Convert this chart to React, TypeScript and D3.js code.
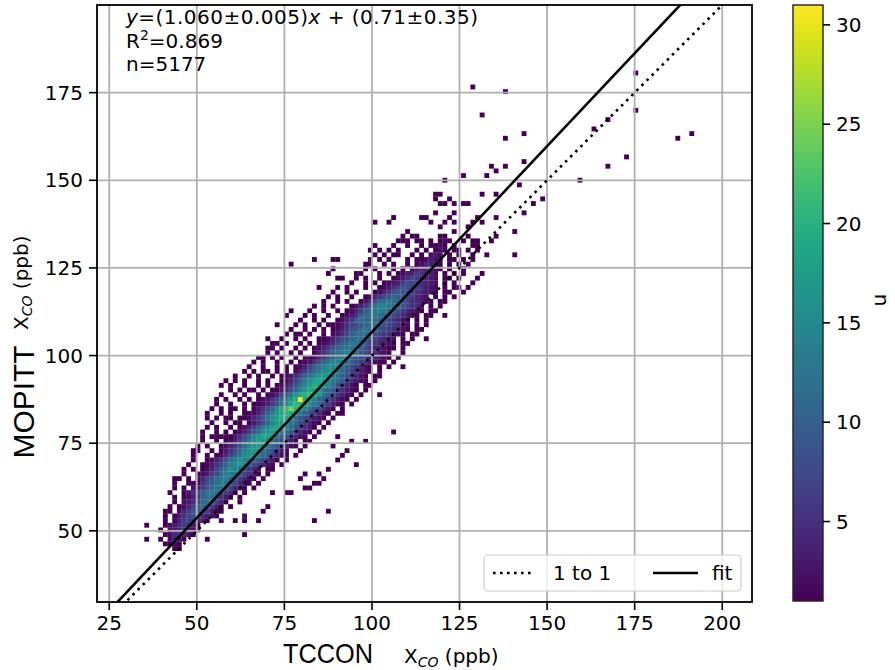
import React from 'react';
import * as d3 from 'd3';

const W = 895;
const H = 670;
const PLOT = { left: 97, right: 752, top: 5, bottom: 602 };
const CBAR = { left: 793, right: 823, top: 5, bottom: 601 };

const xTicks = [25, 50, 75, 100, 125, 150, 175, 200];
const yTicks = [50, 75, 100, 125, 150, 175];
const cbarTicks = [5, 10, 15, 20, 25, 30];
const xDomain: [number, number] = [21.5, 208.5];
const yDomain: [number, number] = [29.7, 200];
const countDomain: [number, number] = [1, 31];
const binOrigin = 35;
const binSize = 1.33;
const fitSlope = 1.06;
const fitIntercept = 0.71;
const legendLabels = ['1 to 1', 'fit'];
const statR2 = '0.869';
const statN = '5177';

// [yBin, firstXBin, counts]  ('.'=0, '1'..'9', 'a'=10 ... 'v'=31)
const denseRows: [number, number, string][] = [
  [7, 6, '11'],
  [8, 4, '1121'],
  [9, 3, '1.2321'],
  [10, 4, '1245421'],
  [11, 3, '1.2345321'],
  [12, 4, '12356431'],
  [13, 4, '1.14675431'],
  [14, 4, '1.1357875321'],
  [15, 4, '11.2469a86311'],
  [16, 5, '1.1247ab9631.1'],
  [17, 6, '1.2358bca741..1'],
  [18, 6, '1.1246acb9531.1'],
  [19, 5, '1..1357acdb8641.1'],
  [20, 6, '1.1.2469bdca7421.1'],
  [21, 6, '1..11258acec97421.1'],
  [22, 6, '11.1.2479cdeb96421.1'],
  [23, 8, '1..12368bedca7531.1'],
  [24, 8, '1.1.1247adgfc9642.11'],
  [25, 9, '1..11358aefhda86421.1'],
  [26, 10, '1..12469cegfdb97531.1'],
  [27, 10, '1..1.1247adfhgeb96421.1'],
  [28, 10, '11..1.1358beghfca8531..1'],
  [29, 11, '1.1..12469cfhigdb97421.1'],
  [30, 12, '1..1.1247adgiheb97531.11'],
  [31, 12, '1.1..11358bfhjigda86421.1'],
  [32, 12, '1..1.1.12469cghigeb96421.1'],
  [33, 13, '1.1..1.1247adgijhfc97531.1'],
  [34, 14, '1..1.1..1358bfhigdb86421.1'],
  [35, 13, '1.1..1.112469dgikihc975321.1'],
  [36, 13, '1..1.1..11247aehjkjgda86421.11'],
  [37, 14, '1.1..1.1.1358bgkmpkifc97531.1'],
  [38, 15, '1..1..1.112469cgjlkigdb86421.1'],
  [39, 15, '1.1..1.1.12358bfhkvjhea975321.1'],
  [40, 16, '1..1.1..1.1247adhjkljhda86421.1'],
  [41, 18, '1.1..1.1.11358behjigdb975321.1'],
  [42, 18, '1..1..1.1.12469cfikihec86421.11'],
  [43, 19, '1.1..1.1..1247adgijhfdb975321.1'],
  [44, 19, '1..1.1..1.12358bdfhigeca86421.11'],
  [45, 21, '1.1..1.1.1.2469bdfgfdb975321.1'],
  [46, 22, '1..1..1.1.1247acegfeca86421.1.1'],
  [47, 23, '1.1..1..1.12358bdfedca8653211.1'],
  [48, 24, '1..1.1..1.112469bdecb98754321.1'],
  [49, 26, '1.1..1.1..1358acdecb9865321..1'],
  [50, 26, '1..1..1.1.12469bcdcba8643211.1'],
  [51, 28, '1.1..1.1.12358acdcb9764321.11'],
  [52, 29, '1..1.1..1124689bcba975432.1.1'],
  [53, 30, '1.1..1..1.2357abcba8765321.11'],
  [54, 31, '1..1.1.1.124689bdcb9765421.11'],
  [55, 32, '1.1..1.11235789bcba976532.1.1'],
  [56, 33, '1..1.1..1246abbcba876421.1.1'],
  [57, 34, '1.1..1..1235abcdcb9865321.11'],
  [58, 35, '1..1..1.1246acdedca864321.11'],
  [59, 36, '1.1.1...12469cefdba97542.1.1'],
  [60, 38, '1..1.1..1358bcdcb9754321.11'],
  [61, 39, '1.1..1..124689ba976432.1.1'],
  [62, 40, '1..1.1...12468a98654321.11'],
  [63, 41, '1.1...1..1235798765321.1.1'],
  [64, 44, '1..1.1.123468765432.1.1'],
  [65, 45, '1.1..1..1235765432.11.1'],
  [66, 46, '1...1.1.123465432.1.1.1'],
  [67, 47, '1.1...1.1.2354321.1..1'],
  [68, 48, '1..1.1..1.124321.1.1.1'],
  [69, 50, '1.1...1.112321.1..1.1'],
  [70, 51, '1..1..1.1.232.1.1..1'],
  [71, 52, '1.1...1.1.121.1..1.1'],
  [72, 53, '1..1..1.1121.1...11'],
  [73, 54, '1...1..1.121..1..1'],
];

// [xBin, yBin, count] isolated cells
const sparseCells: [number, number, number][] = [
  [0, 9, 1], [13, 9, 1], [0, 12, 1], [21, 10, 1], [16, 13, 1], [19, 13, 1], [21, 13, 1], [24, 13, 1],
  [21, 14, 2], [25, 15, 1], [26, 16, 1], [36, 13, 1], [39, 15, 1], [34, 20, 1], [35, 20, 1], [36, 21, 1],
  [37, 21, 1], [38, 22, 1], [37, 23, 1], [33, 22, 1], [34, 23, 1], [30, 19, 1], [31, 19, 1], [27, 19, 1],
  [41, 26, 1], [42, 27, 1], [43, 28, 1], [44, 30, 1], [53, 32, 1], [15, 31, 1], [16, 31, 1], [15, 32, 1],
  [17, 35, 1], [19, 32, 1], [20, 33, 1], [20, 34, 1], [21, 40, 1], [16, 42, 1], [17, 43, 1], [24, 44, 1],
  [25, 45, 1], [25, 47, 1], [25, 48, 1], [27, 50, 1], [27, 51, 1], [32, 52, 1], [33, 53, 1], [30, 57, 1],
  [31, 58, 1], [31, 68, 1], [36, 69, 1], [40, 69, 1], [41, 69, 1], [39, 66, 1], [40, 67, 1], [45, 66, 1],
  [37, 63, 1], [41, 65, 1], [42, 65, 1], [47, 68, 1], [48, 69, 2], [49, 70, 1], [50, 71, 1], [48, 71, 1],
  [49, 72, 1], [52, 69, 1], [53, 70, 1], [55, 73, 1], [56, 73, 1], [57, 74, 1], [58, 74, 1], [59, 73, 1],
  [63, 70, 1], [64, 72, 1], [63, 74, 1], [66, 69, 1], [67, 71, 1], [68, 73, 1], [69, 74, 1], [49, 77, 1],
  [52, 77, 1], [53, 78, 1], [55, 74, 1], [56, 75, 1], [66, 61, 1], [68, 62, 1], [69, 63, 1], [70, 64, 1],
  [71, 65, 1], [67, 63, 1], [72, 66, 1], [59, 78, 1], [60, 78, 1], [61, 77, 1], [63, 76, 1], [64, 77, 1],
  [65, 78, 1], [66, 77, 1], [69, 76, 1], [70, 77, 1], [71, 78, 1], [72, 77, 1], [62, 79, 1], [66, 79, 1],
  [63, 81, 1], [64, 81, 1], [66, 81, 1], [68, 81, 1], [69, 81, 1], [62, 82, 1], [65, 82, 1], [62, 83, 1],
  [63, 83, 1], [64, 86, 1], [70, 73, 1], [74, 73, 1], [73, 70, 1], [79, 70, 1], [75, 74, 1], [64, 74, 1],
  [66, 75, 1], [79, 75, 1], [75, 78, 1], [81, 79, 1], [83, 81, 1], [85, 82, 1], [72, 83, 1], [75, 83, 1],
  [80, 85, 1], [68, 87, 1], [73, 87, 1], [75, 88, 1], [74, 89, 1], [77, 89, 1], [81, 90, 1], [93, 86, 1],
  [99, 89, 1], [103, 91, 1], [77, 95, 1], [81, 96, 1], [96, 97, 1], [99, 99, 1], [72, 100, 1], [105, 101, 1],
  [77, 105, 1], [70, 106, 1], [105, 109, 1], [114, 95, 1], [117, 96, 1],
  [45, 25, 1], [47, 30, 1], [50, 40, 1], [55, 46, 1], [60, 52, 1], [64, 57, 1],
  [18, 37, 1], [22, 41, 1], [19, 44, 1], [23, 47, 1], [26, 52, 1], [28, 55, 1], [24, 39, 1],
  [40, 29, 1], [41, 31, 1], [39, 24, 1],
];

function decode(ch: string): number {
  if (ch === '.') return 0;
  if (ch >= '0' && ch <= '9') return ch.charCodeAt(0) - 48;
  return ch.charCodeAt(0) - 87;
}

function buildCells() {
  const m = new Map<string, { i: number; j: number; c: number }>();
  denseRows.forEach(([j, start, s]) => {
    for (let k = 0; k < s.length; k++) {
      const c = decode(s[k]);
      if (c > 0) m.set(`${start + k},${j}`, { i: start + k, j, c });
    }
  });
  sparseCells.forEach(([i, j, c]) => {
    const key = `${i},${j}`;
    const e = m.get(key);
    if (!e || e.c < c) m.set(key, { i, j, c });
  });
  return Array.from(m.values());
}

const FONT = 'DejaVu Sans, sans-serif';
const BIG = 'Liberation Sans, Arial, sans-serif';

export default function App() {
  const x = d3.scaleLinear().domain(xDomain).range([PLOT.left, PLOT.right]);
  const y = d3.scaleLinear().domain(yDomain).range([PLOT.bottom, PLOT.top]);
  const color = d3.scaleSequential(d3.interpolateViridis).domain(countDomain);
  const cb = d3.scaleLinear().domain(countDomain).range([CBAR.bottom, CBAR.top]);
  const cells = buildCells();

  const fitLine = d3.line<number>().x((v) => x(v)).y((v) => y(fitSlope * v + fitIntercept));
  const oneLine = d3.line<number>().x((v) => x(v)).y((v) => y(v));
  const stops = d3.range(0, 1.0001, 0.05);

  return (
    <svg width={W} height={H} style={{ position: 'absolute', left: 0, top: 0, background: '#fff' }}>
      <defs>
        <clipPath id="plotclip">
          <rect x={PLOT.left} y={PLOT.top} width={PLOT.right - PLOT.left} height={PLOT.bottom - PLOT.top} />
        </clipPath>
        <linearGradient id="viridis" x1="0" y1="1" x2="0" y2="0">
          {stops.map((t) => (
            <stop key={t} offset={t} stopColor={d3.interpolateViridis(t)} />
          ))}
        </linearGradient>
      </defs>
      <rect x={0} y={0} width={W} height={H} fill="#fff" />

      <g clipPath="url(#plotclip)">
        {cells.map((d) => {
          const x0 = x(binOrigin + d.i * binSize);
          const x1 = x(binOrigin + (d.i + 1) * binSize);
          const y0 = y(binOrigin + (d.j + 1) * binSize);
          const y1 = y(binOrigin + d.j * binSize);
          return (
            <rect key={`${d.i}-${d.j}`} x={x0} y={y0} width={x1 - x0 + 0.2} height={y1 - y0 + 0.2} fill={color(d.c)} />
          );
        })}
        {xTicks.map((t) => (
          <line key={`gx${t}`} x1={x(t)} x2={x(t)} y1={PLOT.top} y2={PLOT.bottom} stroke="#b0b0b0" strokeWidth={1.8} />
        ))}
        {yTicks.map((t) => (
          <line key={`gy${t}`} x1={PLOT.left} x2={PLOT.right} y1={y(t)} y2={y(t)} stroke="#b0b0b0" strokeWidth={1.8} />
        ))}
        <path d={oneLine([xDomain[0], yDomain[1]]) || ''} fill="none" stroke="#000" strokeWidth={2.6} strokeDasharray="2.6 4.6" />
        <path d={fitLine([xDomain[0], xDomain[1]]) || ''} fill="none" stroke="#000" strokeWidth={2.6} />
      </g>

      {/* legend */}
      <g fontFamily={FONT} fontSize={20}>
        <rect x={484} y={555} width={257} height={36} rx={4} fill="#fff" fillOpacity={0.8} stroke="#cccccc" strokeWidth={1.2} />
        <line x1={493} x2={535} y1={573} y2={573} stroke="#000" strokeWidth={2.6} strokeDasharray="2.6 4.4" />
        <text x={553} y={580}>{legendLabels[0]}</text>
        <line x1={653} x2={698} y1={573} y2={573} stroke="#000" strokeWidth={2.6} />
        <text x={712} y={580}>{legendLabels[1]}</text>
      </g>

      {/* frame */}
      <rect x={PLOT.left} y={PLOT.top} width={PLOT.right - PLOT.left} height={PLOT.bottom - PLOT.top} fill="none" stroke="#000" strokeWidth={1.8} />

      {/* axes ticks */}
      <g fontFamily={FONT} fontSize={20} fill="#000">
        {xTicks.map((t) => (
          <g key={`tx${t}`}>
            <line x1={x(t)} x2={x(t)} y1={PLOT.bottom} y2={PLOT.bottom + 8} stroke="#000" strokeWidth={1.6} />
            <text x={x(t)} y={630} textAnchor="middle">{t}</text>
          </g>
        ))}
        {yTicks.map((t) => (
          <g key={`ty${t}`}>
            <line x1={PLOT.left - 8} x2={PLOT.left} y1={y(t)} y2={y(t)} stroke="#000" strokeWidth={1.6} />
            <text x={83} y={y(t) + 7} textAnchor="end">{t}</text>
          </g>
        ))}
      </g>

      {/* annotations */}
      <g fontFamily={FONT} fontSize={20} fill="#000">
        <text x={126} y={24} textLength={352} lengthAdjust="spacing">
          <tspan fontStyle="italic">y</tspan>=({fitSlope.toFixed(3)}±0.005)<tspan fontStyle="italic">x</tspan> + ({fitIntercept.toFixed(2)}±0.35)
        </text>
        <text x={126} y={48}>
          R<tspan dy={-8} fontSize={14}>2</tspan><tspan dy={8}>={statR2}</tspan>
        </text>
        <text x={126} y={71}>n={statN}</text>
      </g>

      {/* axis labels */}
      <text x={328} y={663} textAnchor="middle" fontFamily={BIG} fontSize={28} textLength={90} lengthAdjust="spacingAndGlyphs">TCCON</text>
      <text x={404} y={663} fontFamily={FONT} fontSize={20}>
        X<tspan dy={4} fontSize={14} fontStyle="italic">CO</tspan><tspan dy={-4}> (ppb)</tspan>
      </text>
      <text transform="translate(34,402) rotate(-90)" textAnchor="middle" fontFamily={BIG} fontSize={29} textLength={113} lengthAdjust="spacingAndGlyphs">MOPITT</text>
      <text transform="translate(28,330) rotate(-90)" fontFamily={FONT} fontSize={20}>
        X<tspan dy={4} fontSize={14} fontStyle="italic">CO</tspan><tspan dy={-4}> (ppb)</tspan>
      </text>

      {/* colorbar */}
      <rect x={CBAR.left} y={CBAR.top} width={CBAR.right - CBAR.left} height={CBAR.bottom - CBAR.top} fill="url(#viridis)" stroke="#222" strokeWidth={1.4} />
      <g fontFamily={FONT} fontSize={20} fill="#000">
        {cbarTicks.map((t) => (
          <g key={`cb${t}`}>
            <line x1={CBAR.right} x2={CBAR.right + 7} y1={cb(t)} y2={cb(t)} stroke="#000" strokeWidth={1.6} />
            <text x={836} y={cb(t) + 7}>{t}</text>
          </g>
        ))}
        <text transform="translate(875,300) rotate(90)" textAnchor="middle">n</text>
      </g>
    </svg>
  );
}
